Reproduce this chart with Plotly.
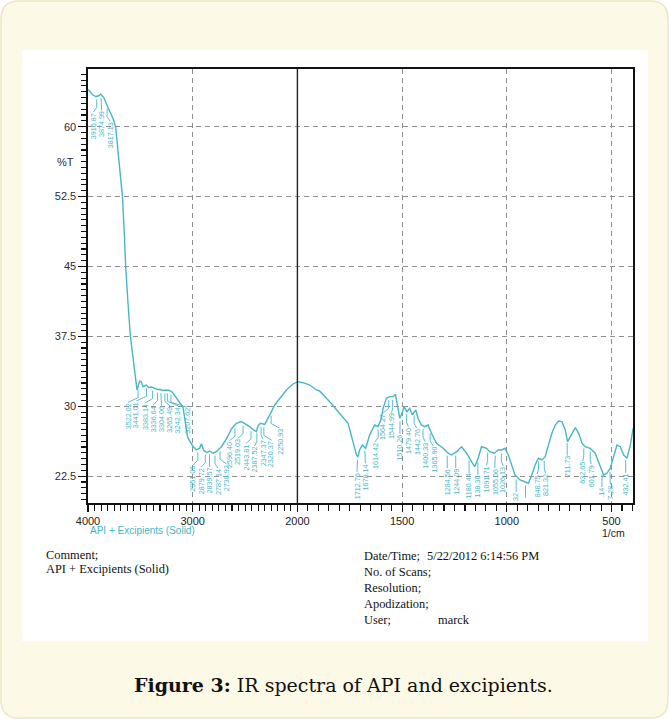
import numpy as np
import plotly.graph_objects as go

W, H = 669, 719
ML, MR, MT, MB = 88, 36, 69, 216
PW = W - ML - MR
PH = H - MT - MB
X_MAX = 5.205
Y_MIN, Y_MAX = 19.62, 66.19
TEAL = "#47b6c6"

# ---------------- data ----------------
wavenumber = [
    4000, 3974, 3952, 3926, 3904, 3879, 3850, 3824, 3786, 3755,
    3735, 3716, 3694, 3671, 3654, 3640, 3618, 3595, 3573, 3554,
    3532, 3506, 3490, 3475, 3442, 3420, 3394, 3363, 3334, 3310,
    3287, 3251, 3220, 3196, 3172, 3124, 3093, 3067, 3048, 3029,
    3000, 2965, 2933, 2917, 2895, 2863, 2838, 2806, 2774, 2726,
    2678, 2630, 2583, 2535, 2503, 2456, 2417, 2392, 2374, 2351,
    2312, 2281, 2248, 2217, 2169, 2105, 2042, 1997, 1973, 1941,
    1909, 1894, 1846, 1798, 1758, 1735, 1718, 1711, 1703, 1690,
    1674, 1655, 1631, 1615, 1599, 1591, 1575, 1559, 1543, 1532,
    1524, 1511, 1498, 1491, 1477, 1464, 1451, 1435, 1424, 1408,
    1392, 1376, 1360, 1336, 1304, 1280, 1264, 1240, 1216, 1192,
    1169, 1153, 1137, 1121, 1097, 1081, 1060, 1041, 1025, 1009,
    993, 977, 961, 937, 913, 897, 881, 865, 849, 833,
    817, 801, 785, 769, 753, 737, 721, 710, 689, 673,
    657, 641, 626, 602, 578, 557, 538, 522, 506, 490,
    474, 458, 442, 426, 410, 397,
]
transmittance = [
    64.0, 63.67, 63.40, 63.24, 63.29, 63.48, 63.15, 62.44, 61.58, 60.72,
    59.86, 57.50, 54.82, 52.5, 48.70, 45.0, 41.08, 37.47, 35.50, 33.89,
    31.75, 32.71, 32.61, 32.10, 32.28, 32.02, 32.07, 31.93, 31.80, 31.80,
    31.70, 31.75, 31.70, 31.53, 31.16, 30.32, 29.92, 27.99, 26.70, 26.28,
    25.74, 25.31, 25.52, 25.98, 25.26, 25.04, 25.20, 24.96, 25.13, 25.66,
    26.49, 27.56, 28.17, 28.35, 28.15, 27.81, 27.46, 27.27, 27.94, 28.17,
    28.05, 28.64, 29.42, 30.14, 30.86, 31.75, 32.39, 32.64, 32.53, 32.28,
    31.75, 31.64, 30.49, 29.25, 28.17, 26.20, 24.77, 24.56, 25.31, 25.85,
    25.49, 26.92, 27.99, 27.81, 28.71, 29.78, 30.86, 31.03, 31.03, 31.29,
    30.14, 28.71, 29.42, 29.96, 29.42, 29.78, 29.07, 29.60, 28.71, 27.99,
    27.81, 27.99, 27.10, 26.03, 25.49, 24.96, 24.77, 25.13, 25.66, 24.96,
    24.05, 23.52, 24.42, 25.66, 25.49, 25.13, 24.96, 25.31, 25.31, 25.49,
    24.77, 23.70, 22.63, 22.09, 21.91, 21.74, 22.63, 23.70, 24.42, 24.24,
    24.59, 25.85, 27.10, 27.99, 28.42, 28.35, 27.46, 26.20, 27.10, 27.70,
    27.10, 26.03, 25.66, 25.49, 24.96, 23.70, 22.63, 22.81, 23.35, 24.59,
    25.85, 25.66, 24.77, 24.42, 25.85, 27.64,
]

peaks_high = ["3916.87", "3874.99", "3817.13"]
peaks_oh = ["3522.02", "3441.01", "3383.14", "3336.64", "3304.06",
            "3265.49", "3242.34", "3207.62"]
peaks_ch = ["2951.06", "2879.72", "2839.57", "2787.14", "2738.92"]
peaks_mid = ["2596.40", "2519.03", "2443.81", "2387.52", "2347.37",
             "2320.37", "2250.93"]
peaks_fp = ["1712.76", "1678.14", "1614.42", "1564.27", "1544.99", "1510.26",
            "1479.40", "1442.76", "1400.33", "1365.90", "1284.56", "1244.09",
            "1180.44", "1138.30", "1091.71", "1055.06", "1026.13", "955.32",
            "910.63", "848.75", "821.32", "711.73", "632.65", "601.79",
            "545.14", "507.28", "432.41"]
peak_groups = [peaks_high, peaks_oh, peaks_ch, peaks_mid, peaks_fp]

x_tick_wn = [4000, 3000, 2000, 1500, 1000, 500]
x_tick_labels = ["4000", "3000", "2000", "1500", "1000", "500"]
y_ticks = [22.5, 30, 37.5, 45, 52.5, 60]
y_tick_labels = ["22.5", "30", "37.5", "45", "52.5", "60"]


def to_axis(w):
    w = np.asarray(w, float)
    return np.where(w >= 2000, (4000 - w) / 1000.0, 2 + (2000 - w) / 500.0)


def pxx(px):
    return (px - ML) / PW


def pxy(py):
    return (H - MB - py) / PH


PX_PER_X = PW / X_MAX
PX_PER_Y = PH / (Y_MAX - Y_MIN)

xs_axis = to_axis(wavenumber)
order = np.argsort(xs_axis)
xs_sorted = xs_axis[order]
ys_sorted = np.asarray(transmittance)[order]

fig = go.Figure()
fig.add_trace(go.Scatter(x=xs_axis, y=transmittance, mode="lines",
                         line=dict(color=TEAL, width=1.4),
                         hoverinfo="skip", showlegend=False))


def spread(centers, minsep):
    clusters = [[i] for i in range(len(centers))]
    while True:
        changed = False
        for k in range(len(clusters) - 1):
            a, b = clusters[k], clusters[k + 1]
            ca = np.mean([centers[i] for i in a])
            cb = np.mean([centers[i] for i in b])
            a_right = ca + (len(a) - 1) / 2 * minsep
            b_left = cb - (len(b) - 1) / 2 * minsep
            if b_left - a_right < minsep - 1e-9:
                clusters[k] = a + b
                del clusters[k + 1]
                changed = True
                break
        if not changed:
            break
    pos = [0.0] * len(centers)
    for cl in clusters:
        c = np.mean([centers[i] for i in cl])
        n = len(cl)
        for j, i in enumerate(cl):
            pos[i] = c + (j - (n - 1) / 2) * minsep
    return pos


def text_len_px(s):
    return sum(2.1 if ch == "." else 4.17 for ch in s)


minsep = 8.4 / PX_PER_X
lead_x, lead_y = [], []
annotations = []
for grp in peak_groups:
    wn = np.array([float(s) for s in grp])
    xp = to_axis(wn)
    idx = np.argsort(xp)
    xp_s = xp[idx]
    labels_s = [grp[i] for i in idx]
    pos = spread(list(xp_s), minsep)
    for x0, xl, lab in zip(xp_s, pos, labels_s):
        vp = float(np.interp(x0, xs_sorted, ys_sorted))
        top = vp - 1.8
        avail = (top - Y_MIN) * PX_PER_Y - 1
        txt = lab
        while txt and text_len_px(txt) > avail:
            txt = txt[1:]
        if abs(xl - x0) > 1e-6:
            lead_x += [x0, x0, xl, None]
            lead_y += [vp - 0.35, top + 0.6, top + 0.1, None]
        else:
            lead_x += [x0, x0, None]
            lead_y += [vp - 0.35, top + 0.1, None]
        if txt:
            annotations.append(dict(
                x=xl, y=top, xref="x", yref="y", text=txt, textangle=-90,
                xanchor="center", yanchor="top", showarrow=False,
                borderpad=0, borderwidth=0,
                font=dict(family="Arial, Liberation Sans", size=7.2, color=TEAL)))

fig.add_trace(go.Scatter(x=lead_x, y=lead_y, mode="lines",
                         line=dict(color=TEAL, width=0.9),
                         hoverinfo="skip", showlegend=False))

# ---------------- layout ----------------
minor_x = sorted(set(np.round(np.concatenate([
    np.arange(0, 2, 0.0625), np.arange(2, X_MAX, 0.1)]), 4)) - set(range(6)))

grid_dash = "5px,4px"
fig.update_xaxes(
    range=[0, X_MAX], tickmode="array", tickvals=list(to_axis(x_tick_wn)),
    ticktext=x_tick_labels, ticks="outside", ticklen=7, tickwidth=1.2,
    tickcolor="#111", showline=True, linecolor="#111", linewidth=1.6,
    mirror=True, showgrid=True, gridcolor="#8f8f8f", gridwidth=1,
    griddash=grid_dash, zeroline=False,
    tickfont=dict(family="Arial, Liberation Sans", size=11, color="#222"),
    minor=dict(tickmode="array", tickvals=minor_x, ticks="outside",
               ticklen=6, tickwidth=1.1, tickcolor="#111", showgrid=False),
    automargin=False,
)
fig.update_yaxes(
    range=[Y_MIN, Y_MAX], tickmode="array", tickvals=y_ticks,
    ticktext=y_tick_labels, ticks="outside", ticklen=8, tickwidth=1.2,
    tickcolor="#111", showline=True, linecolor="#111", linewidth=1.6,
    mirror=True, showgrid=True, gridcolor="#8f8f8f", gridwidth=1,
    griddash=grid_dash, zeroline=False,
    tickfont=dict(family="Arial, Liberation Sans", size=11, color="#2a2a3a"),
    minor=dict(tick0=22.5, dtick=0.625, ticks="outside", ticklen=5,
               tickwidth=1.1, tickcolor="#111", showgrid=False),
    automargin=False,
)

shapes = []
x0p, x1p = pxx(1), pxx(668)
y0p, y1p = pxy(718), pxy(1)
rx, ry = 18 / PW, 18 / PH
path = (f"M {x0p+rx},{y0p} L {x1p-rx},{y0p} Q {x1p},{y0p} {x1p},{y0p+ry} "
        f"L {x1p},{y1p-ry} Q {x1p},{y1p} {x1p-rx},{y1p} L {x0p+rx},{y1p} "
        f"Q {x0p},{y1p} {x0p},{y1p-ry} L {x0p},{y0p+ry} Q {x0p},{y0p} {x0p+rx},{y0p} Z")
shapes.append(dict(type="path", xref="paper", yref="paper", path=path,
                   fillcolor="#fcf9e6", line=dict(color="#efe6bd", width=1.5),
                   layer="below"))
shapes.append(dict(type="rect", xref="paper", yref="paper",
                   x0=pxx(22), x1=pxx(648), y0=pxy(641), y1=pxy(50),
                   fillcolor="white", line=dict(width=0), layer="below"))
shapes.append(dict(type="line", xref="x", yref="paper", x0=2, x1=2, y0=0, y1=1,
                   line=dict(color="#222", width=1.4)))

serif = "Liberation Serif, Times New Roman, serif"
text_items = [
    ("Comment;", 45, 555), ("API + Excipients (Solid)", 45, 569),
    ("Date/Time;", 363, 556), ("5/22/2012 6:14:56 PM", 426, 556),
    ("No. of Scans;", 363, 572), ("Resolution;", 363, 588),
    ("Apodization;", 363, 604), ("User;", 363, 620), ("marck", 437, 620),
]
for t, px, py in text_items:
    annotations.append(dict(text=t, x=pxx(px), y=pxy(py), xref="paper", yref="paper",
                            xanchor="left", yanchor="middle", showarrow=False,
                            borderpad=0,
                            font=dict(family=serif, size=12.4, color="#111")))

annotations.append(dict(text="%T", x=pxx(76), y=56.25, xref="paper", yref="y",
                        xanchor="right", yanchor="middle", showarrow=False,
                        font=dict(family="Arial, Liberation Sans", size=11, color="#2a2a3a")))
annotations.append(dict(text="API + Excipients (Solid)", x=pxx(89), y=pxy(530),
                        xref="paper", yref="paper", xanchor="left", yanchor="middle",
                        showarrow=False, borderpad=0,
                        font=dict(family="Arial, Liberation Sans", size=10, color=TEAL)))
annotations.append(dict(text="1/cm", x=pxx(613), y=pxy(533), xref="paper", yref="paper",
                        xanchor="center", yanchor="middle", showarrow=False, borderpad=0,
                        font=dict(family="Arial, Liberation Sans", size=10.5, color="#222")))
annotations.append(dict(text="<b>Figure 3:</b> IR spectra of API and excipients.",
                        x=pxx(343), y=pxy(685), xref="paper", yref="paper",
                        xanchor="center", yanchor="middle", showarrow=False,
                        font=dict(family="DejaVu Serif, serif", size=19, color="#111")))

fig.update_layout(
    width=W, height=H, autosize=False,
    margin=dict(l=ML, r=MR, t=MT, b=MB, pad=0),
    paper_bgcolor="white", plot_bgcolor="white",
    shapes=shapes, annotations=annotations, showlegend=False,
)
fig.write_html(
    "out.html",
    config={"displayModeBar": False, "staticPlot": True},
    post_script="document.body.style.margin='0px';document.body.style.padding='0px';"
                "document.body.style.overflow='hidden';",
)
